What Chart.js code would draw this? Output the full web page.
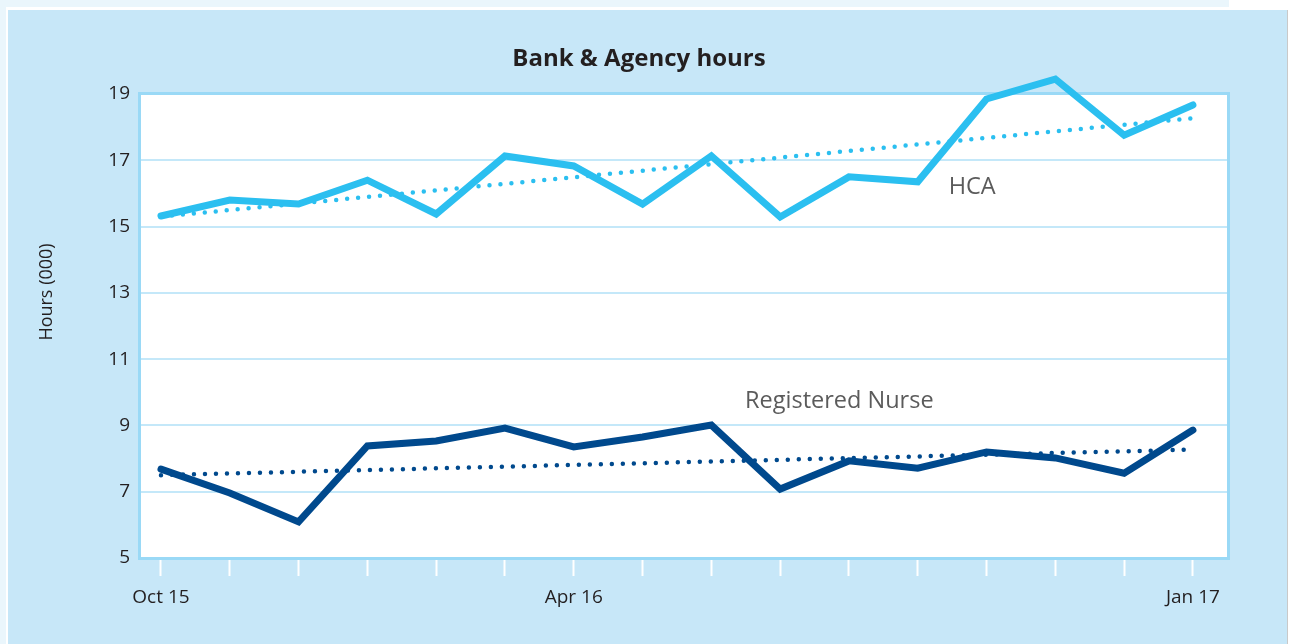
<!DOCTYPE html>
<html>
<head>
<meta charset="utf-8">
<script src="https://cdn.jsdelivr.net/npm/chart.js@4"></script>
<style>
html,body{margin:0;padding:0;background:#fff;}
#wrap{position:relative;width:1291px;height:644px;}
canvas{display:block;}
</style>
</head>
<body>
<div id="wrap"><canvas id="c" width="1291" height="644"></canvas></div>
<script>
// ---- data ----
const monthLabels = ['Oct 15','Nov 15','Dec 15','Jan 16','Feb 16','Mar 16','Apr 16','May 16','Jun 16','Jul 16','Aug 16','Sep 16','Oct 16','Nov 16','Dec 16','Jan 17'];
const shownLabels = ['Oct 15','Apr 16','Jan 17'];
const hcaHours = [15.32,15.8,15.68,16.4,15.38,17.13,16.83,15.68,17.13,15.29,16.5,16.35,18.85,19.45,17.76,18.67];
const nurseHours = [7.68,6.96,6.09,8.38,8.53,8.92,8.35,8.65,9.01,7.08,7.93,7.71,8.2,8.02,7.56,8.86];
const trendIdx = [0,15];
const hcaTrend = [15.3,18.27];
const nurseTrend = [7.5,8.27];
const yTicks = [5,7,9,11,13,15,17,19];
const chartTitle = 'Bank & Agency hours';
const yTitle = 'Hours (000)';
const seriesNotes = [
  {text:'HCA', x:11.45, y:16.19},
  {text:'Registered Nurse', x:8.49, y:9.74}
];

const HCA = '#2bbff0';
const RN = '#00498d';
const FONT = "'Open Sans', sans-serif";

const toXY = (vals) => vals.map((v,i)=>({x:i,y:v}));
const trendXY = (vals) => vals.map((v,i)=>({x:trendIdx[i],y:v}));

const bgPlugin = {
  id:'bg',
  beforeDraw(chart){
    const ctx = chart.ctx;
    ctx.save();
    ctx.fillStyle = '#ffffff';
    ctx.fillRect(0,0,1291,644);
    ctx.fillStyle = '#eaf6fc';
    ctx.fillRect(0,0,1229,7);
    ctx.fillRect(0,0,6,644);
    ctx.fillStyle = '#c7e7f8';
    ctx.fillRect(8,10,1279,634);
    ctx.fillStyle = '#c9c9c9';
    ctx.fillRect(1287,10,1,634);
    const a = chart.chartArea;
    ctx.fillStyle = '#ffffff';
    ctx.fillRect(a.left,a.top,a.right-a.left,a.bottom-a.top);
    // title
    ctx.fillStyle = '#231f20';
    ctx.font = "bold 24px " + FONT;
    ctx.textAlign = 'center';
    ctx.textBaseline = 'alphabetic';
    ctx.fillText(chartTitle, 639, 66);
    // y axis title
    ctx.save();
    ctx.translate(47, 292);
    ctx.rotate(-Math.PI/2);
    ctx.font = "18px " + FONT;
    ctx.textBaseline = 'middle';
    ctx.fillText(yTitle, 0, 0);
    ctx.restore();
    ctx.restore();
  },
  beforeDatasetsDraw(chart){
    const ctx = chart.ctx, a = chart.chartArea;
    ctx.save();
    ctx.strokeStyle = '#9ad9f6';
    ctx.lineWidth = 3;
    ctx.strokeRect(a.left-0.5,a.top-0.5,a.right-a.left+1,a.bottom-a.top+1);
    ctx.restore();
  },
  afterDatasetsDraw(chart){
    const ctx = chart.ctx;
    const xs = chart.scales.x, ys = chart.scales.y;
    ctx.save();
    ctx.font = "23.5px " + FONT;
    ctx.fillStyle = '#5b5b5b';
    ctx.textAlign = 'left';
    ctx.textBaseline = 'middle';
    seriesNotes.forEach(n=>{
      ctx.fillText(n.text, xs.getPixelForValue(n.x), ys.getPixelForValue(n.y));
    });
    ctx.restore();
  }
};

new Chart(document.getElementById('c'), {
  type:'line',
  data:{
    datasets:[
      {label:'HCA', data:toXY(hcaHours), borderColor:HCA, borderWidth:7, pointRadius:0, tension:0, borderCapStyle:'round', borderJoinStyle:'miter', clip:false},
      {label:'Registered Nurse', data:toXY(nurseHours), borderColor:RN, borderWidth:7, pointRadius:0, tension:0, borderCapStyle:'round', borderJoinStyle:'miter', clip:false},
      {label:'HCA trend', data:trendXY(hcaTrend), borderColor:HCA, borderWidth:4.5, pointRadius:0, borderDash:[0,11], borderCapStyle:'round', clip:false},
      {label:'RN trend', data:trendXY(nurseTrend), borderColor:RN, borderWidth:4.5, pointRadius:0, borderDash:[0,11], borderCapStyle:'round', clip:false}
    ]
  },
  options:{
    responsive:false,
    animation:false,
    devicePixelRatio:1,
    layout:{padding:{left:0,right:63,top:94,bottom:0}},
    plugins:{
      legend:{display:false},
      tooltip:{enabled:false},
      title:{display:false}
    },
    scales:{
      x:{
        type:'linear', min:-0.305, max:15.51,
        afterFit(s){ s.height = 86; },
        afterBuildTicks(s){ s.ticks = monthLabels.map((_,i)=>({value:i})); },
        border:{display:false},
        grid:{drawOnChartArea:false, drawTicks:true, tickLength:18, tickColor:'#ffffff', tickWidth:2},
        ticks:{autoSkip:false, maxRotation:0, padding:10, color:'#231f20', font:{family:FONT,size:19},
          callback:(v)=>{ const l = monthLabels[v]; return shownLabels.includes(l) ? l : ''; }}
      },
      y:{
        min:5, max:19,
        afterFit(s){ s.width = 140; },
        afterBuildTicks(s){ s.ticks = yTicks.map(v=>({value:v})); },
        border:{display:false},
        grid:{color:'#c4e8f9', lineWidth:2, drawTicks:false},
        ticks:{padding:10, color:'#231f20', font:{family:FONT,size:19}}
      }
    }
  },
  plugins:[bgPlugin]
});
</script>
</body>
</html>
